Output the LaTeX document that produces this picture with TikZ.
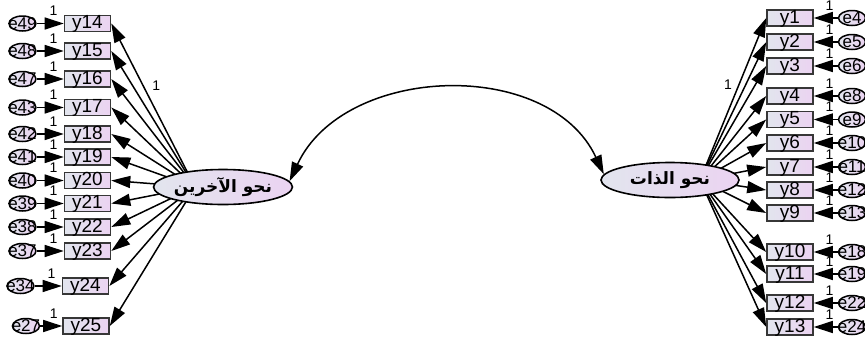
\documentclass[tikz,border=0pt]{standalone}
\usepackage{fontspec}
\setmainfont{Liberation Sans}
\newfontfamily\arabicfont[Script=Arabic]{DejaVu Sans}
\TeXXeTstate=1
\usetikzlibrary{arrows.meta,positioning,shapes.geometric}
\definecolor{lblue}{RGB}{226,229,238}
\definecolor{lpink}{RGB}{235,211,241}
\definecolor{edge}{RGB}{55,55,55}
\tikzset{
  obs/.style={draw=edge, line width=1.6pt, left color=lblue, right color=lpink,
              minimum width=46pt, minimum height=16pt, inner sep=0pt,
              text height=13pt, text depth=3pt,
              font=\fontsize{19}{19}\selectfont},
  err/.style={ellipse, draw=black, line width=1.5pt, left color=lblue, right color=lpink,
              minimum width=27pt, minimum height=15pt, inner xsep=-6pt, inner ysep=-2pt,
              font=\fontsize{17}{17}\selectfont},
  lat/.style={ellipse, draw=black, line width=1.6pt, left color=lblue, right color=lpink,
              minimum width=138pt, minimum height=35pt, inner sep=0pt,
              font=\arabicfont\bfseries\fontsize{17}{17}\selectfont},
  load/.style={-{Triangle[length=19pt,width=12pt]}, line width=1.5pt},
  one/.style={font=\fontsize{14}{14}\selectfont, inner sep=0pt},
  cov/.style={{Triangle[length=19pt,width=12pt]}-{Triangle[length=19pt,width=12pt]}, line width=1.5pt},
}
\begin{document}
\begin{tikzpicture}[x=1pt, y=-1pt]
  \useasboundingbox (0,0) rectangle (865,349);
  % points the loadings aim at
  \coordinate (Lf) at (195,187);
  \coordinate (Rf) at (700,180);
  % left block
  \foreach \i/\xx/\yy/\e/\gap in {14/87.5/23.5/49/27, 15/87.5/51/48/27, 16/87.5/79/47/27,
      17/87.5/107.5/43/27, 18/87.5/134/42/27, 19/87.5/157/41/27, 20/87.5/180.5/40/27,
      21/87.5/203.5/39/27, 22/87.5/227/38/27, 23/87.5/251/37/27, 24/85.5/286/34/27,
      25/86/326/27/22}{
    \node[obs] (y\i) at (\xx,\yy) {y\i};
    \node[err, left=\gap pt of y\i] (e\e) {e\e};
    \draw[load] (e\e) -- node[one, pos=0.62, above=7pt] (u\i) {1} (y\i);
    \draw[load] (Lf) -- (y\i.east);
  }
  % right block
  \foreach \i/\yy/\e in {1/18/4, 2/42/5, 3/66/6, 4/96/8, 5/119.5/9, 6/143/10, 7/167/11,
      8/190/12, 9/213/13, 10/252/18, 11/274/19, 12/303/22, 13/327/24}{
    \node[obs] (y\i) at (790,\yy) {y\i};
    \node[err, right=24pt of y\i] (e\e) {e\e};
    \draw[load] (e\e) -- node[one, pos=0.35, above=7pt] (u\i) {1} (y\i);
    \draw[load] (Rf) -- (y\i.west);
  }
  \path (Lf) -- node[one, pos=0.62, right=9pt] (w14) {1} (y14.east);
  \path (Rf) -- node[one, pos=0.59, left=7pt] (w1) {1} (y1.west);
  % factors
  \node[lat] (L) at (223,187) {\beginR نحو الآخرين\endR};
  \node[lat] (R) at (670,180) {\beginR نحو الذات\endR};
  \draw[cov] (L.5) to[out=65, in=115, looseness=1.05] (R.175);
\end{tikzpicture}
\end{document}
